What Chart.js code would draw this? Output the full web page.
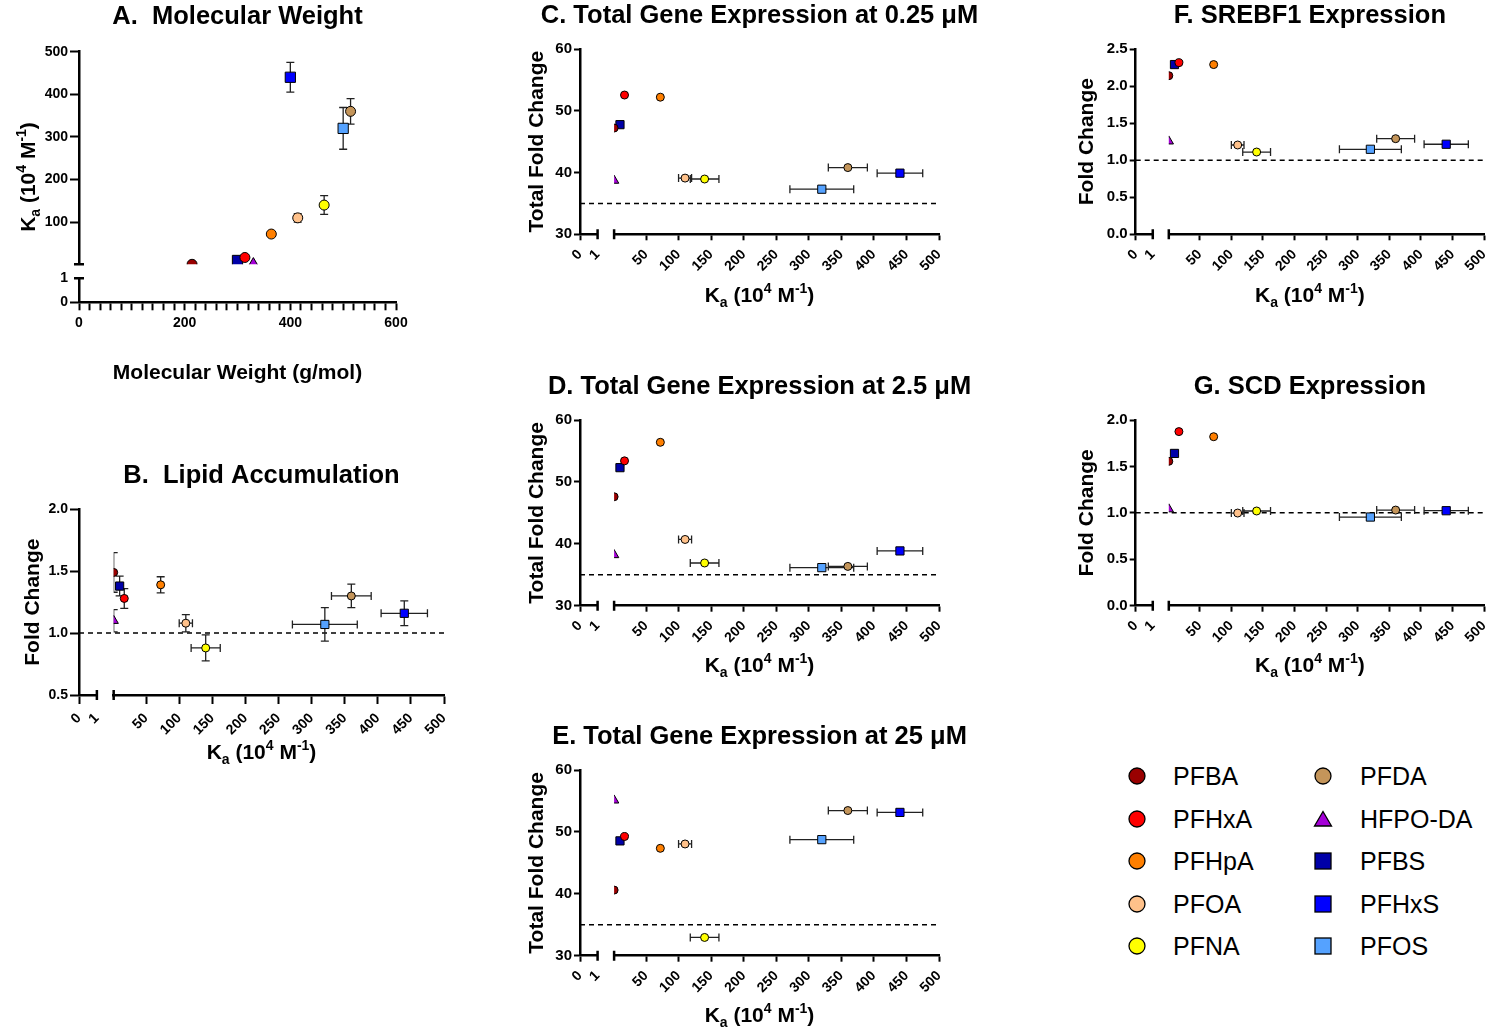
<!DOCTYPE html>
<html>
<head>
<meta charset="utf-8">
<script src="https://cdn.jsdelivr.net/npm/chart.js@4.4.1/dist/chart.umd.min.js"></script>
<style>
  body { margin: 0; background: #fff; width: 1502px; height: 1032px; position: relative; overflow: hidden; font-family: 'Liberation Sans', Arial, sans-serif; }
  canvas { position: absolute; }
  .lg-mark { position: absolute; }
  .lg-text { position: absolute; font-size: 25px; line-height: 28px; color: #000; white-space: nowrap; }
</style>
</head>
<body>
<canvas id="chartA"></canvas>
<canvas id="chartB"></canvas>
<canvas id="chartC"></canvas>
<canvas id="chartD"></canvas>
<canvas id="chartE"></canvas>
<canvas id="chartF"></canvas>
<canvas id="chartG"></canvas>
<div id="legend"></div>
<script>
const FONT = "'Liberation Sans', Arial, Helvetica, sans-serif"

// compounds, in legend order (first 5 = left column)
const compounds = ['PFBA', 'PFHxA', 'PFHpA', 'PFOA', 'PFNA', 'PFDA', 'HFPO-DA', 'PFBS', 'PFHxS', 'PFOS']
const colors = ['#990000', '#ff0000', '#ff7f00', '#ffc18a', '#ffff00', '#c4955a', '#a500d8', '#0000a8', '#0000ff', '#55a2ff']
const shapes = ['circle', 'circle', 'circle', 'circle', 'circle', 'circle', 'triangle', 'rect', 'rect', 'rect']

const molWeight = [214, 314, 364, 414, 464, 514, 330, 300, 400, 500]
const ka = [1, 17, 72, 110, 140, 360, 1, 10, 440, 320]
const kaErr = [0, 0, 0, 10, 22, 30, 0, 0, 35, 49]

const lipid = [1.49, 1.28, 1.39, 1.08, 0.88, 1.30, 1.10, 1.38, 1.16, 1.07]
const lipidErr = [0.16, 0.08, 0.065, 0.07, 0.105, 0.095, 0.09, 0.08, 0.1, 0.135]
const total025 = [47.2, 52.55, 52.2, 39.1, 38.95, 40.8, 38.7, 47.75, 39.9, 37.3]
const total2_5 = [47.6, 53.4, 56.4, 40.7, 36.9, 36.35, 38.2, 52.3, 38.85, 36.15]
const total25 = [40.6, 49.25, 47.35, 48.05, 32.95, 53.45, 55.1, 48.55, 53.15, 48.75]
const srebf1 = [2.14, 2.315, 2.29, 1.205, 1.11, 1.29, 1.255, 2.29, 1.215, 1.147]
const scd = [1.555, 1.875, 1.82, 0.998, 1.02, 1.03, 1.04, 1.64, 1.023, 0.955]

// tick values
const mwLabels = [0, 200, 400, 600]
const kaAxisTicks = [100, 200, 300, 400, 500]
const lowTicks = [0, 1]
const kaTicks = [50, 100, 150, 200, 250, 300, 350, 400, 450, 500]
const lipidTicks = [0.5, 1.0, 1.5, 2.0]
const totalTicks = [30, 40, 50, 60]
const srebf1Ticks = [0, 0.5, 1.0, 1.5, 2.0, 2.5]
const scdTicks = [0, 0.5, 1.0, 1.5, 2.0]

const kaTitle = [['K'], ['a', 'sub'], [' (10'], ['4', 'sup'], [' M'], ['-1', 'sup'], [')']]

Chart.defaults.font.family = FONT
Chart.defaults.color = '#000'

function richText(ctx, parts, x, y, size, rot) {
    ctx.save()
    ctx.translate(x, y)
    ctx.rotate(rot || 0)
    ctx.fillStyle = '#000'
    ctx.textBaseline = 'middle'
    ctx.textAlign = 'left'
    const small = Math.round(size * 0.66)
    let w = 0
    parts.forEach(p => {
        ctx.font = 'bold ' + (p[1] ? small : size) + 'px ' + FONT
        w += ctx.measureText(p[0]).width
    })
    let cx = -w / 2
    parts.forEach(p => {
        ctx.font = 'bold ' + (p[1] ? small : size) + 'px ' + FONT
        const dy = p[1] === 'sub' ? size * 0.32 : p[1] === 'sup' ? -size * 0.33 : 0
        ctx.fillText(p[0], cx, dy)
        cx += ctx.measureText(p[0]).width
    })
    ctx.restore()
}

function useTicks(arr) {
    return s => { s.ticks = arr.map(v => ({ value: v })) }
}

function hideTickAtOne(c) {
    return c.tick && c.tick.value === 1 ? 'rgba(0,0,0,0)' : '#000'
}

function axis(pos, tl, fontSize, extra) {
    return Object.assign({
        type: 'linear',
        position: pos,
        border: { color: '#000', width: 2.5 },
        grid: { drawOnChartArea: false, drawTicks: true, tickLength: tl, tickWidth: 2, tickColor: '#000' },
        ticks: { color: '#000', autoSkip: false, padding: 2, font: { family: FONT, size: fontSize, weight: 'bold' } }
    }, extra)
}

function decor(p) {
    return {
        id: 'decor',
        beforeDatasetsDraw(chart) {
            const { ctx, chartArea: a, scales } = chart
            const xs = scales[p.xs], ys = scales[p.ys]
            if (p.baseline !== undefined) {
                const py = ys.getPixelForValue(p.baseline)
                ctx.save()
                ctx.setLineDash([5, 4])
                ctx.lineWidth = 1.5
                ctx.strokeStyle = '#000'
                ctx.beginPath()
                ctx.moveTo(a.left, py)
                ctx.lineTo(a.right, py)
                ctx.stroke()
                ctx.restore()
            }
            // markers and error bars are clipped at the axis break
            ctx.save()
            ctx.beginPath()
            if (p.kind === 'mw') ctx.rect(a.left, a.top - 20, a.width + 20, scales.yb.bottom - a.top + 20)
            else ctx.rect(scales.xb.left, a.top - 20, a.right + 20 - scales.xb.left, a.height + 40)
            ctx.clip()
            ctx.strokeStyle = '#222'
            ctx.lineWidth = 1.3
            const cap = 4
            p.xVals.forEach((xv, i) => {
                const px = xs.getPixelForValue(xv), py = ys.getPixelForValue(p.yVals[i])
                ctx.beginPath()
                if (p.xErr && p.xErr[i]) {
                    const x1 = xs.getPixelForValue(xv - p.xErr[i]), x2 = xs.getPixelForValue(xv + p.xErr[i])
                    ctx.moveTo(x1, py); ctx.lineTo(x2, py)
                    ctx.moveTo(x1, py - cap); ctx.lineTo(x1, py + cap)
                    ctx.moveTo(x2, py - cap); ctx.lineTo(x2, py + cap)
                }
                if (p.yErr && p.yErr[i]) {
                    const y1 = ys.getPixelForValue(p.yVals[i] - p.yErr[i]), y2 = ys.getPixelForValue(p.yVals[i] + p.yErr[i])
                    ctx.moveTo(px, y1); ctx.lineTo(px, y2)
                    ctx.moveTo(px - cap, y1); ctx.lineTo(px + cap, y1)
                    ctx.moveTo(px - cap, y2); ctx.lineTo(px + cap, y2)
                }
                ctx.stroke()
            })
        },
        afterDatasetsDraw(chart) {
            chart.ctx.restore()
        },
        afterDraw(chart) {
            const { ctx, chartArea: a, scales } = chart
            const ox = p.box[0], oy = p.box[1]
            ctx.save()
            ctx.strokeStyle = '#000'
            ctx.lineWidth = 2.5
            ctx.beginPath()
            if (p.kind === 'mw') {
                [scales.ya.top, scales.yb.bottom].forEach(y => { ctx.moveTo(a.left - 5, y); ctx.lineTo(a.left + 5, y) })
            } else {
                [scales.xa.right, scales.xb.left].forEach(x => { ctx.moveTo(x, a.bottom - 5); ctx.lineTo(x, a.bottom + 5) })
            }
            ctx.stroke()
            ctx.fillStyle = '#000'
            ctx.textAlign = 'center'
            ctx.textBaseline = 'middle'
            ctx.font = 'bold 25.5px ' + FONT
            ctx.fillText(p.title, (a.left + a.right) / 2, p.titleY - oy)
            richText(ctx, p.xTitle, (a.left + a.right) / 2, p.xTitleY - oy, 21, 0)
            richText(ctx, p.yTitle, p.yTitleX - ox, (a.top + a.bottom) / 2, 21, -Math.PI / 2)
            ctx.restore()
        }
    }
}

function place(p, yW, xH) {
    const canvas = document.getElementById(p.id)
    const [bx, by, bw, bh] = p.box
    const [L, T, R, B] = p.area
    canvas.width = bw
    canvas.height = bh
    canvas.style.left = bx + 'px'
    canvas.style.top = by + 'px'
    return {
        canvas,
        padding: { left: L - bx - yW, top: T - by, right: bx + bw - R, bottom: by + bh - B - xH }
    }
}

function makeDatasets(xVals, yVals, xId, yId, r) {
    return compounds.map((name, i) => ({
        label: name,
        data: [{ x: xVals[i], y: yVals[i] }],
        pointStyle: shapes[i],
        pointRadius: shapes[i] === 'rect' ? r * 1.45 : shapes[i] === 'triangle' ? r * 1.35 : r,
        backgroundColor: colors[i],
        borderColor: '#000',
        borderWidth: 1,
        xAxisID: xId,
        yAxisID: yId,
        clip: false
    }))
}

// ---- panel A: Ka vs molecular weight (broken y axis)
function makeMwChart(p) {
    const yW = 40, xH = 30
    const { canvas, padding } = place(p, yW, xH)
    new Chart(canvas, {
        type: 'scatter',
        data: { datasets: makeDatasets(molWeight, ka, 'x', 'yb', 5) },
        options: {
            responsive: false, animation: false, events: [],
            layout: { autoPadding: false, padding },
            plugins: { legend: { display: false }, tooltip: { enabled: false } },
            scales: {
                x: axis('bottom', 8, 14, {
                    min: 0, max: 600,
                    ticks: { color: '#000', autoSkip: false, padding: 4, stepSize: 20, maxRotation: 0, minRotation: 0,
                        font: { family: FONT, size: 14, weight: 'bold' },
                        callback: v => mwLabels.includes(v) ? v : '' },
                    afterFit: s => { s.height = xH }
                }),
                // left stacks are laid out in reverse order: last defined ends on top
                ya: axis('left', 9, 14, {
                    min: 0, max: 1, stack: 'ka', stackWeight: 24,
                    grid: { drawOnChartArea: false, tickLength: 9, tickWidth: 2, tickColor: hideTickAtOne },
                    afterBuildTicks: useTicks(lowTicks),
                    afterFit: s => { s.width = yW }
                }),
                ygap: { type: 'linear', position: 'left', display: false, stack: 'ka', stackWeight: 14 },
                yb: axis('left', 9, 14, {
                    min: 1, max: 500, stack: 'ka', stackWeight: 212.6,
                    afterBuildTicks: useTicks(kaAxisTicks),
                    afterFit: s => { s.width = yW }
                })
            }
        },
        plugins: [decor(p)]
    })
}

// ---- panels B-G: response vs Ka (broken x axis)
function makeKaChart(p) {
    const yW = 40, xH = 48
    const { canvas, padding } = place(p, yW, xH)
    const xTickOpts = { color: '#000', autoSkip: false, padding: 6, maxRotation: 45, minRotation: 45,
        font: { family: FONT, size: 14, weight: 'bold' } }
    new Chart(canvas, {
        type: 'scatter',
        data: { datasets: makeDatasets(ka, p.yVals, 'xb', 'y', 4) },
        options: {
            responsive: false, animation: false, events: [],
            layout: { autoPadding: false, padding },
            plugins: { legend: { display: false }, tooltip: { enabled: false } },
            scales: {
                xa: axis('bottom', p.tl, 14, {
                    min: 0, max: 1, stack: 'ka', stackWeight: 0.049,
                    grid: { drawOnChartArea: false, tickLength: p.tl, tickWidth: 2, tickColor: hideTickAtOne },
                    ticks: xTickOpts,
                    afterBuildTicks: useTicks(lowTicks),
                    afterFit: s => { s.height = xH }
                }),
                xgap: { type: 'linear', position: 'bottom', display: false, stack: 'ka', stackWeight: 0.046 },
                xb: axis('bottom', p.tl, 14, {
                    min: 1, max: 500, stack: 'ka', stackWeight: 0.905,
                    ticks: xTickOpts,
                    afterBuildTicks: useTicks(kaTicks),
                    afterFit: s => { s.height = xH }
                }),
                y: axis('left', p.tl, p.yFont, {
                    min: p.yTicks[0], max: p.yTicks[p.yTicks.length - 1],
                    ticks: { color: '#000', padding: 2, font: { family: FONT, size: p.yFont, weight: 'bold' },
                        callback: v => v.toFixed(p.dec) },
                    afterBuildTicks: useTicks(p.yTicks),
                    afterFit: s => { s.width = yW }
                })
            }
        },
        plugins: [decor(p)]
    })
}

makeMwChart({
    id: 'chartA', kind: 'mw', box: [0, 0, 440, 400], area: [79, 51.7, 396, 302.3],
    xs: 'x', ys: 'yb', xVals: molWeight, yVals: ka, yErr: kaErr,
    title: 'A.  Molecular Weight', titleY: 17,
    xTitle: [['Molecular Weight (g/mol)']], xTitleY: 373,
    yTitle: kaTitle, yTitleX: 29
})

const kaPanels = [
    { id: 'chartB', box: [0, 450, 470, 330], area: [79, 509.3, 444, 695], yVals: lipid, yErr: lipidErr,
      yTicks: lipidTicks, dec: 1, baseline: 1, tl: 9, yFont: 14, title: 'B.  Lipid Accumulation', titleY: 476,
      xTitleY: 753, yTitle: [['Fold Change']], yTitleX: 33 },
    { id: 'chartC', box: [480, 0, 565, 330], area: [580, 49, 939, 234.3], yVals: total025,
      yTicks: totalTicks, dec: 0, baseline: 35, tl: 6, yFont: 15, title: 'C. Total Gene Expression at 0.25 μM', titleY: 16,
      xTitleY: 296, yTitle: [['Total Fold Change']], yTitleX: 537 },
    { id: 'chartD', box: [480, 360, 565, 330], area: [580, 420, 939, 605.7], yVals: total2_5,
      yTicks: totalTicks, dec: 0, baseline: 35, tl: 6, yFont: 15, title: 'D. Total Gene Expression at 2.5 μM', titleY: 387,
      xTitleY: 666, yTitle: [['Total Fold Change']], yTitleX: 537 },
    { id: 'chartE', box: [480, 710, 565, 322], area: [580, 770, 939, 955.7], yVals: total25,
      yTicks: totalTicks, dec: 0, baseline: 35, tl: 6, yFont: 15, title: 'E. Total Gene Expression at 25 μM', titleY: 737,
      xTitleY: 1016, yTitle: [['Total Fold Change']], yTitleX: 537 },
    { id: 'chartF', box: [1050, 0, 452, 330], area: [1135.7, 49, 1494, 234.3], yVals: srebf1,
      yTicks: srebf1Ticks, dec: 1, baseline: 1, tl: 6, yFont: 15, title: 'F. SREBF1 Expression', titleY: 16,
      xTitleY: 296, yTitle: [['Fold Change']], yTitleX: 1087.5 },
    { id: 'chartG', box: [1050, 360, 452, 330], area: [1135.7, 420, 1494, 605.7], yVals: scd,
      yTicks: scdTicks, dec: 1, baseline: 1, tl: 6, yFont: 15, title: 'G. SCD Expression', titleY: 387,
      xTitleY: 666, yTitle: [['Fold Change']], yTitleX: 1087.5 }
]
kaPanels.forEach(p => {
    p.kind = 'ka'
    p.xs = 'xb'
    p.ys = 'y'
    p.xVals = ka
    p.xErr = kaErr
    p.xTitle = kaTitle
    makeKaChart(p)
})

// ---- legend
const legend = document.getElementById('legend')
compounds.forEach((name, i) => {
    const col = i < 5 ? 0 : 1
    const rowY = [776, 818.5, 861, 903.5, 946][i % 5]
    const mx = col ? 1323.3 : 1136.7
    const tx = col ? 1360 : 1173
    let shape
    if (shapes[i] === 'circle') shape = `<circle cx="10" cy="10" r="8" fill="${colors[i]}" stroke="#000" stroke-width="1.3"/>`
    else if (shapes[i] === 'rect') shape = `<rect x="2" y="2" width="16" height="16" fill="${colors[i]}" stroke="#000" stroke-width="1.3"/>`
    else shape = `<polygon points="10,2.5 18.5,17 1.5,17" fill="${colors[i]}" stroke="#000" stroke-width="1.3"/>`
    const svg = document.createElement('div')
    svg.className = 'lg-mark'
    svg.style.left = (mx - 10) + 'px'
    svg.style.top = (rowY - 10) + 'px'
    svg.innerHTML = `<svg width="20" height="20">${shape}</svg>`
    legend.appendChild(svg)
    const t = document.createElement('div')
    t.className = 'lg-text'
    t.style.left = tx + 'px'
    t.style.top = (rowY - 14) + 'px'
    t.textContent = name
    legend.appendChild(t)
})
</script>
</body>
</html>
